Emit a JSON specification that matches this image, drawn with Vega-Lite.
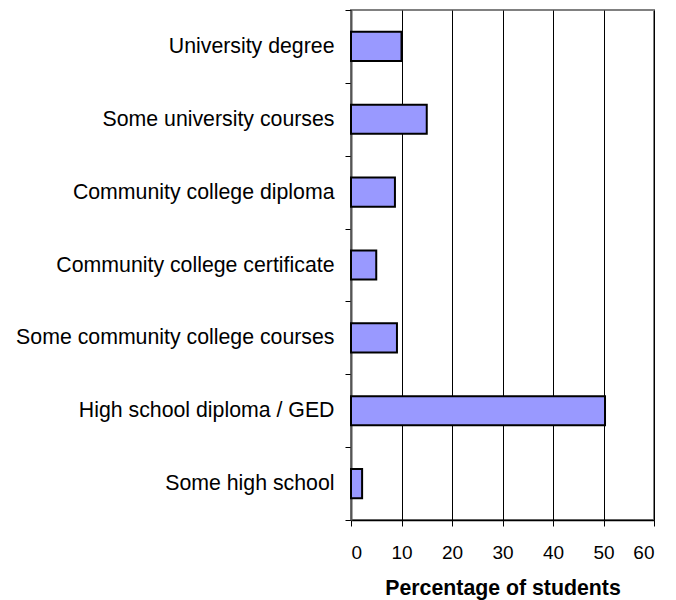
{
  "$schema": "https://vega.github.io/schema/vega-lite/v6.json",
  "width": 303,
  "height": 510,
  "autosize": {"type": "none"},
  "padding": {"left": 351, "top": 10, "right": 22, "bottom": 80},
  "background": "white",
  "config": {
    "font": "Liberation Sans",
    "view": {"stroke": "#808080", "strokeWidth": 2}
  },
  "data": {
    "values": [
      {"level": "University degree", "pct": 10.0},
      {"level": "Some university courses", "pct": 15.0},
      {"level": "Community college diploma", "pct": 8.7},
      {"level": "Community college certificate", "pct": 5.0},
      {"level": "Some community college courses", "pct": 9.1},
      {"level": "High school diploma / GED", "pct": 50.3},
      {"level": "Some high school", "pct": 2.2}
    ]
  },
  "mark": {"type": "bar", "fill": "#9999FF", "stroke": "black", "strokeWidth": 2, "height": {"band": 0.4}},
  "encoding": {
    "y": {
      "field": "level",
      "type": "nominal",
      "sort": null,
      "scale": {"paddingInner": 0, "paddingOuter": 0},
      "axis": {
        "title": null,
        "tickBand": "extent",
        "tickSize": 6,
        "tickColor": "black",
        "domainColor": "#555555",
        "domainWidth": 2,
        "labelFontSize": 21.3,
        "labelColor": "black",
        "labelPadding": 11,
        "labelLimit": 400,
        "grid": false
      }
    },
    "x": {
      "field": "pct",
      "type": "quantitative",
      "scale": {"domain": [0, 60], "nice": false},
      "axis": {
        "title": "Percentage of students",
        "values": [0, 10, 20, 30, 40, 50, 60],
        "grid": true,
        "gridColor": "black",
        "gridOpacity": 1,
        "gridWidth": 1,
        "domainColor": "black",
        "domainWidth": 1.5,
        "tickColor": "black",
        "tickSize": 6,
        "labelFontSize": 19,
        "labelColor": "black",
        "labelPadding": 17,
        "titleFontSize": 21.3,
        "titleFontWeight": "bold",
        "titleColor": "black",
        "titlePadding": 15
      }
    }
  }
}
